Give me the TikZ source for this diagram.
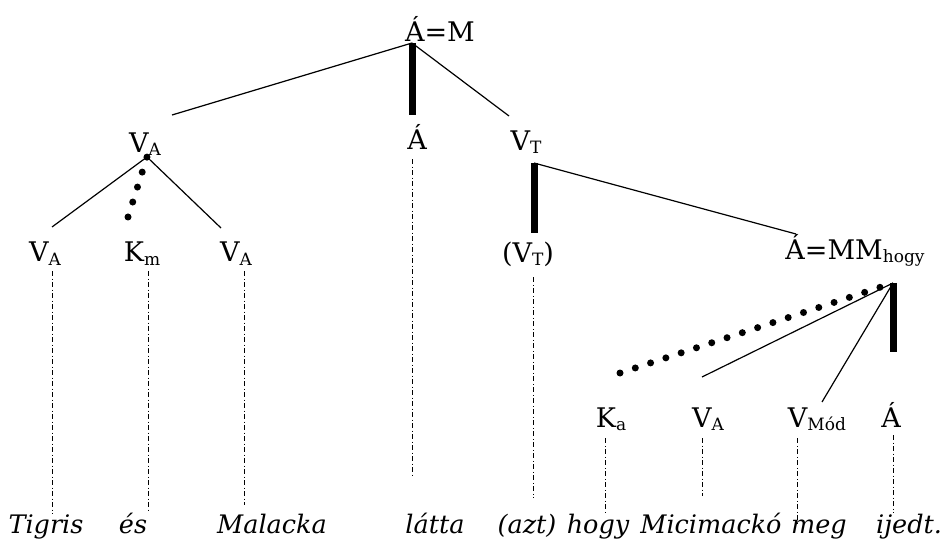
\documentclass[tikz,border=0pt]{standalone}
\usepackage{fontspec}
\setmainfont{DejaVu Serif}
\usetikzlibrary{positioning}
\newcommand{\sub}[1]{\raisebox{-3pt}{\fontsize{17}{17}\selectfont #1}}

\begin{document}
\begin{tikzpicture}[
  x=1pt, y=-1pt,
  font=\fontsize{27}{30}\selectfont,
  lab/.style={inner sep=0pt, anchor=base},
  word/.style={inner sep=0pt, anchor=base, font=\fontsize{25.5}{30}\selectfont\itshape},
  branch/.style={line width=1.2pt},
  head/.style={line width=7pt},
  dotbranch/.style={line width=7pt, line cap=round},
  link/.style={line width=0.8pt, dash pattern=on 5pt off 2.5pt on 1pt off 2.5pt},
]
\useasboundingbox (0,0) rectangle (943,540);

% labels
\node[lab] (top)  at (440,42)  {Á=M};
\node[lab] (vA)   at (145,153) {V\sub{A}};
\node[lab] (aMid) at (417,150) {Á};
\node[lab] (vT)   at (526,151) {V\sub{T}};
\node[lab] (vA1)  at (45,262)  {V\sub{A}};
\node[lab] (km)   at (142,262) {K\sub{m}};
\node[lab] (vA2)  at (236,262) {V\sub{A}};
\node[lab] (vTp)  at (528,263) {(V\sub{T})};
\node[lab] (amm)  at (855,260) {Á=MM\sub{hogy}};
\node[lab] (ka)   at (611,427) {K\sub{a}};
\node[lab] (vA3)  at (708,427) {V\sub{A}};
\node[lab] (vmod) at (817,427) {V\sub{Mód}};
\node[lab] (a3)   at (891,427) {Á};

% words
\node[word] (w1) at (46,533)  {Tigris};
\node[word] (w2) at (133,533) {és};
\node[word] (w3) at (272,533) {Malacka};
\node[word] (w4) at (435,533) {látta};
\node[word] (w5) at (527,533) {(azt)};
\node[word] (w6) at (598,533) {hogy};
\node[word] (w7) at (711,533) {Micimackó};
\node[word] (w8) at (819,533) {meg};
\node[word] (w9) at (909,533) {ijedt.};

% junctions
\coordinate (rJ)    at (412,43);
\coordinate (rL)    at (172,115);
\coordinate (rM)    at (412,115);
\coordinate (rR)    at (509,116);
\coordinate (vAJ)   at (147,157);
\coordinate (vAL)   at (52,227);
\coordinate (vAM)   at (128,217);
\coordinate (vAR)   at (221,228);
\coordinate (vTJ)   at (534,163);
\coordinate (vTD)   at (534,233);
\coordinate (vTR)   at (796,234);
\coordinate (ammJ)  at (893,283);
\coordinate (ammD)  at (893,352);
\coordinate (ammK)  at (620,373);
\coordinate (ammV)  at (702,377);
\coordinate (ammM)  at (822,402);

% tree
\draw[branch] (rJ) -- (rL);
\draw[branch] (rJ) -- (rR);
\draw[head] (rJ) -- (rM);
\draw[branch] (vAJ) -- (vAL);
\draw[branch] (vAJ) -- (vAR);
\draw[dotbranch, dash pattern=on 0pt off 15.7pt] (vAM) -- (vAJ);
\draw[head] (vTJ) -- (vTD);
\draw[branch] (vTJ) -- (vTR);
\draw[head] (ammJ) -- (ammD);
\draw[dotbranch, dash pattern=on 0pt off 16.1pt] (ammK) -- (ammJ);
\draw[branch] (ammJ) -- (ammV);
\draw[branch] (ammJ) -- (ammM);

% links to the words
\foreach \n/\dx/\w/\a/\b in {vA1/7/w1/6/0, km/6/w2/6/0, vA2/8/w3/6/8,
    aMid/-5/w4/9/37, vTp/5/w5/10/15, ka/-6/w6/8/0, vA3/-6/w7/8/16,
    vmod/-20/w8/8/-5, a3/2/w9/8/0}
  \draw[link, shorten <=\a pt, shorten >=\b pt]
    ([xshift=\dx pt]\n.south) -- ([xshift=\dx pt]\n.south |- \w.north);
\end{tikzpicture}
\end{document}
